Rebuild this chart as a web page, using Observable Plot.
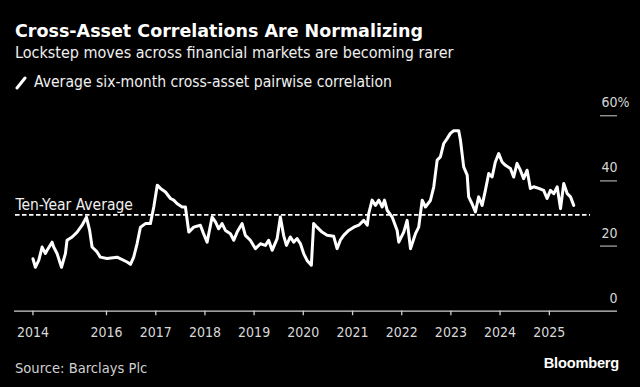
<!DOCTYPE html>
<html>
<head>
<meta charset="utf-8">
<script src="https://cdn.jsdelivr.net/npm/d3@7"></script>
<script src="https://cdn.jsdelivr.net/npm/@observablehq/plot@0.6"></script>
<style>
  html, body { margin: 0; padding: 0; background: #000; }
  #wrap { position: relative; width: 640px; height: 387px; background: #000; overflow: hidden;
          font-family: "DejaVu Sans Condensed", "DejaVu Sans", sans-serif; font-stretch: condensed; color: #fff; }
  .t { position: absolute; left: 15px; white-space: nowrap; }
  #title { top: 21px; font-size: 17.5px; line-height: 20px; font-weight: bold; font-family: "DejaVu Sans", sans-serif; font-stretch: normal; }
  #subtitle { top: 43.5px; font-size: 16px; line-height: 18px; color: #f0f0f0; }
  #legend { top: 73px; font-size: 15.6px; line-height: 18px; color: #f0f0f0; }
  #legend svg { position: absolute; left: 0; top: 3px; }
  #legend span { position: absolute; left: 19px; top: 0; }
  #chart { position: absolute; left: 0; top: 90px; }
  #source { top: 359px; font-size: 14.6px; line-height: 17px; color: #d0d0d0; }
  #brand { position: absolute; right: 21px; top: 354px; font-size: 14.6px; line-height: 18px; font-weight: bold; color: #fff;
           font-family: "Liberation Sans", Arial, sans-serif; font-stretch: normal; letter-spacing: -0.2px; }
</style>
</head>
<body>
<div id="wrap">
  <div class="t" id="title">Cross-Asset Correlations Are Normalizing</div>
  <div class="t" id="subtitle">Lockstep moves across financial markets are becoming rarer</div>
  <div class="t" id="legend"><svg width="12" height="14"><line x1="2" y1="12" x2="10" y2="2" stroke="#fff" stroke-width="3" stroke-linecap="round"/></svg><span>Average six-month cross-asset pairwise correlation</span></div>
  <div id="chart"></div>
  <div class="t" id="source">Source: Barclays Plc</div>
  <div id="brand">Bloomberg</div>
</div>
<script>
const dates = ["2014-07-04","2014-07-22","2014-08-16","2014-09-10","2014-10-04","2014-10-17","2014-11-23","2014-12-05","2014-12-30",
"2015-02-01","2015-03-02","2015-03-14","2015-04-21","2015-05-28","2015-07-04","2015-08-05","2015-08-29","2015-09-16","2015-10-23","2015-11-16",
"2016-01-05","2016-03-20","2016-06-02","2016-06-27","2016-07-21","2016-08-15","2016-09-09","2016-10-16","2016-11-22","2016-12-17",
"2017-01-12","2017-02-05","2017-03-14","2017-04-20","2017-05-14","2017-06-09","2017-07-16","2017-08-09","2017-09-03","2017-10-10","2017-11-28","2017-12-21",
"2018-01-17","2018-02-23","2018-03-20","2018-04-13","2018-05-08","2018-06-02","2018-07-09","2018-08-03","2018-08-28","2018-10-04","2018-10-28","2018-12-04",
"2019-01-11","2019-02-17","2019-03-26","2019-04-19","2019-05-15","2019-06-21","2019-07-15","2019-08-08","2019-08-29","2019-09-27","2019-10-22","2019-11-16","2019-12-11",
"2020-01-04","2020-01-29","2020-03-01","2020-03-18","2020-04-12","2020-05-19","2020-06-26","2020-08-14","2020-09-08","2020-10-02","2020-10-27","2020-12-03",
"2021-01-10","2021-02-16","2021-03-25","2021-04-20","2021-05-01","2021-05-26","2021-06-20","2021-07-15","2021-08-09","2021-08-26","2021-09-15","2021-10-22","2021-11-28","2021-12-10",
"2022-01-16","2022-02-10","2022-03-07","2022-04-13","2022-05-07","2022-06-02","2022-06-26","2022-08-02","2022-08-27","2022-09-21","2022-10-15","2022-11-09","2022-12-04","2022-12-28",
"2023-01-22","2023-02-28","2023-03-13","2023-04-06","2023-05-02","2023-05-13","2023-06-07","2023-07-02","2023-07-26","2023-08-21","2023-09-14","2023-10-09","2023-11-03","2023-11-27","2023-12-22",
"2024-01-16","2024-02-10","2024-03-18","2024-04-11","2024-05-06","2024-05-31","2024-06-24","2024-07-20","2024-08-13","2024-09-07","2024-10-14","2024-11-20","2024-12-15",
"2025-01-09","2025-02-03","2025-02-28","2025-03-25","2025-04-18","2025-05-14","2025-06-07","2025-07-01"];
const values = [16.1,13.5,15.6,19.7,17.7,18.7,21.2,19.7,17.7,
13.5,17.7,21.8,22.8,24.3,26.4,28.9,24.8,19.7,18.2,16.6,
16.2,16.6,15.1,14.4,16.6,20.7,25.8,26.9,26.9,32,
38.7,37.7,36.6,34.6,34.1,33,32,32,24.3,25.8,26.4,23.9,
21.2,28.9,27.4,25.3,26.9,24.8,23.8,21.8,24.3,26.9,23.3,21.8,
19.2,20.7,20.2,21.8,18.7,22.3,28.9,23.3,20.2,22.8,21.2,22.3,20.7,
17.7,15.6,14.1,26.9,25.8,24.3,23.3,23,19.2,21.8,23.3,24.8,
25.8,26.4,27.9,26.4,30,34.1,32.5,34.1,32,34.1,31,28.9,24.8,21.2,
24.3,27.9,19.2,23.8,25.8,34.1,32,34,38.2,46.4,47.4,51.5,53,54.6,
55.4,55.4,52.5,44.3,41.8,35.1,33,30.5,35.1,32.5,37.1,42.3,41.2,45.8,48.4,
45.8,44.8,43.8,41.2,45.4,43.3,40.7,43.3,37.7,38.2,37.7,37.1,34.6,
37.1,36.1,38.2,31.5,39.2,36.1,35.1,32.5];
const tenYearAverage = 29.6;
const xTickDates = ["2014-07-04","2016-01-01","2017-01-01","2018-01-01","2019-01-01","2020-01-01","2021-01-01","2022-01-01","2023-01-01","2024-01-01","2025-01-01"];
const xTickLabels = ["2014","2016","2017","2018","2019","2020","2021","2022","2023","2024","2025"];
const yTicks = [0, 20, 40, 60];
const xDomain = ["2014-02-17", "2026-05-22"];

const series = dates.map((d, i) => ({date: new Date(d), value: values[i]}));
const xTicks = xTickDates.map((d, i) => ({date: new Date(d), label: xTickLabels[i]}));
const font = '"DejaVu Sans Condensed", "DejaVu Sans", sans-serif';

const chart = Plot.plot({
  width: 640,
  height: 255,
  marginLeft: 14,
  marginRight: 23,
  marginTop: 25.3,
  marginBottom: 34.3,
  style: {background: "transparent", color: "#ddd", fontFamily: font, fontStretch: "condensed"},
  x: {type: "utc", domain: xDomain.map(d => new Date(d)), axis: null},
  y: {domain: [0, 60], axis: null},
  marks: [
    Plot.ruleY(yTicks.filter(d => d > 0), {stroke: "#cfcfcf", strokeWidth: 1, insetLeft: 586}),
    Plot.text(yTicks, {y: d => d, text: d => String(d), frameAnchor: "right", textAnchor: "end", lineAnchor: "bottom", dy: -8.5, fill: "#d8d8d8", fontSize: 14}),
    Plot.text(yTicks.filter(d => d === 60), {y: d => d, text: () => "%", frameAnchor: "right", textAnchor: "start", lineAnchor: "bottom", dy: -8.5, fill: "#d8d8d8", fontSize: 14}),
    Plot.ruleY([0], {stroke: "#cfcfcf", strokeWidth: 1.3}),
    Plot.ruleX(xTicks, {x: "date", y1: 0, y2: 0, stroke: "#cfcfcf", strokeWidth: 1.3, insetBottom: -4.5}),
    Plot.text(xTicks, {x: "date", text: "label", frameAnchor: "bottom", lineAnchor: "bottom", dy: 25.3, fill: "#d8d8d8", fontSize: 14}),
    Plot.ruleY([tenYearAverage], {stroke: "#fff", strokeWidth: 1.8, strokeDasharray: "4.5,2.5", insetLeft: 1, insetRight: 27}),
    Plot.text([tenYearAverage], {y: d => d, text: () => "Ten-Year Average", frameAnchor: "left", textAnchor: "start", lineAnchor: "bottom", dx: 1, dy: -4.5, fill: "#f0f0f0", fontSize: 15.5}),
    Plot.line(series, {x: "date", y: "value", stroke: "#fff", strokeWidth: 3, strokeLinejoin: "round"})
  ]
});
document.getElementById("chart").appendChild(chart);
</script>
</body>
</html>
